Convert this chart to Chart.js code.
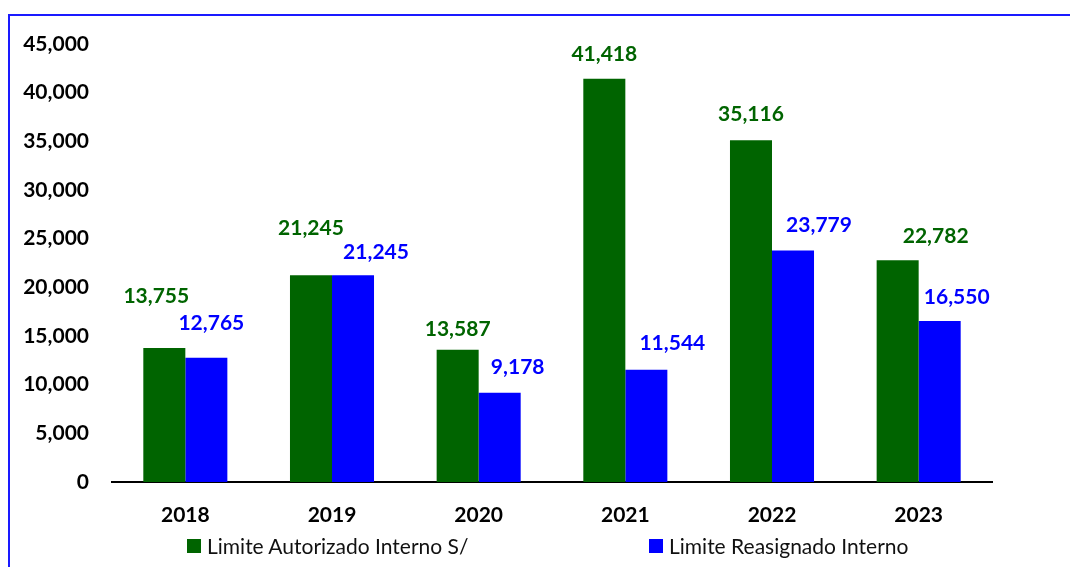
<!DOCTYPE html>
<html>
<head>
<meta charset="utf-8">
<script src="https://cdn.jsdelivr.net/npm/chart.js@4.4.0/dist/chart.umd.min.js"></script>
<style>
  html, body { margin: 0; padding: 0; background: #fff; overflow: hidden; }
  #wrap { position: relative; width: 1070px; height: 567px; }
  #frame { position: absolute; left: 8px; top: 14px; width: 1200px; height: 700px;
           border-top: 2px solid #1a1aff; border-left: 2px solid #1a1aff; }
  #myChart { position: absolute; left: 0; top: 0; }
  .legend { position: absolute; top: 533px; font-family: Lato, sans-serif; font-size: 21px;
            color: #111; display: flex; align-items: center; white-space: nowrap; }
  .legend span.box { display: inline-block; width: 14px; height: 14px; margin-right: 6px; }
</style>
</head>
<body>
<div id="wrap">
  <div id="frame"></div>
  <canvas id="myChart" width="1070" height="567"></canvas>
  <div class="legend" id="leg0" style="left:187px"></div>
  <div class="legend" id="leg1" style="left:649px"></div>
</div>
<script>
const years = ['2018', '2019', '2020', '2021', '2022', '2023'];
const autorizado = [13755, 21245, 13587, 41418, 35116, 22782];
const reasignado = [12765, 21245, 9178, 11544, 23779, 16550];
const seriesNames = ['Limite Autorizado Interno S/', 'Limite Reasignado Interno'];
const seriesColors = ['#006400', '#0000ff'];

// label nudges (px) relative to the top centre of each bar
const labelShift = [
  [[-8, -52], [0, -47], [0, -21], [0, -25], [0, -26], [38, -24]],
  [[5, -35], [23, -23], [18, -25], [26, -26], [26, -25], [17, -24]]
];

const fmt = v => v.toLocaleString('en-US');

const valueLabels = {
  id: 'valueLabels',
  afterDatasetsDraw(chart) {
    const c = chart.ctx;
    c.save();
    c.font = 'bold 21px Lato, sans-serif';
    c.textAlign = 'center';
    c.textBaseline = 'middle';
    chart.data.datasets.forEach((ds, di) => {
      const meta = chart.getDatasetMeta(di);
      c.fillStyle = seriesColors[di];
      meta.data.forEach((bar, i) => {
        const [dx, dy] = labelShift[di][i];
        c.fillText(fmt(ds.data[i]), bar.x + dx, bar.y + dy);
      });
    });
    c.restore();
  }
};

seriesNames.forEach((n, i) => {
  const el = document.getElementById('leg' + i);
  el.innerHTML = '<span class="box" style="background:' + seriesColors[i] + '"></span>' + n;
});

const ctx = document.getElementById('myChart').getContext('2d');
new Chart(ctx, {
  type: 'bar',
  data: {
    labels: years,
    datasets: [
      { label: seriesNames[0], data: autorizado, backgroundColor: seriesColors[0] },
      { label: seriesNames[1], data: reasignado, backgroundColor: seriesColors[1] }
    ]
  },
  options: {
    responsive: false,
    animation: false,
    datasets: { bar: { categoryPercentage: 0.573, barPercentage: 1.0 } },
    layout: { padding: { left: 0, right: 78, top: 44, bottom: 35 } },
    plugins: {
      legend: { display: false },
      title: { display: false },
      tooltip: { enabled: false }
    },
    scales: {
      x: {
        grid: { display: false, drawTicks: false },
        border: { display: true, color: '#000', width: 2 },
        ticks: { color: '#000', font: { family: 'Lato', size: 21, weight: 'bold' }, padding: 21 },
        afterFit(scale) { scale.height = 50; }
      },
      y: {
        min: 0,
        max: 45000,
        grid: { display: false, drawTicks: false },
        border: { display: false },
        ticks: {
          stepSize: 5000,
          color: '#000',
          padding: 23,
          font: { family: 'Lato', size: 21, weight: 'bold' },
          callback: v => fmt(v)
        },
        afterFit(scale) { scale.width = 112; }
      }
    }
  },
  plugins: [valueLabels]
});
</script>
</body>
</html>
